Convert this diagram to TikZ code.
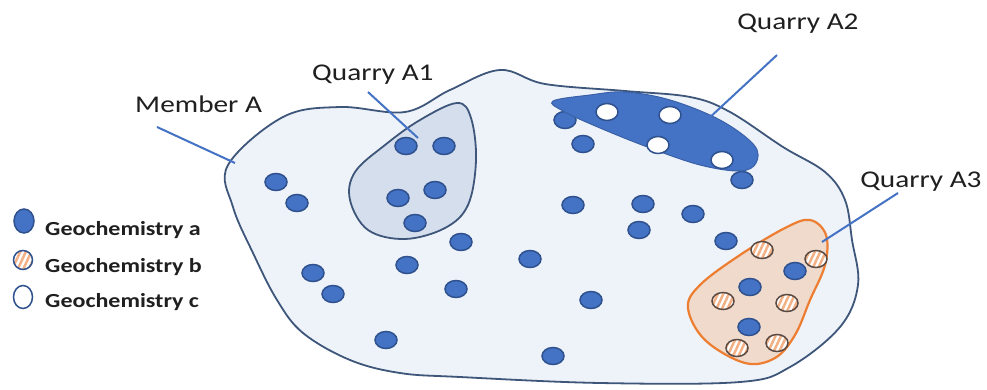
\documentclass[tikz,border=0pt]{standalone}
\usepackage{fontspec}
\setmainfont{Carlito}
\usetikzlibrary{shapes.geometric,patterns.meta}

\definecolor{memberfill}{HTML}{EEF3FA}
\definecolor{memberline}{HTML}{3E5679}
\definecolor{quarryfill}{HTML}{D5DEED}
\definecolor{geoblue}{HTML}{4472C4}
\definecolor{geoedge}{HTML}{2F528F}
\definecolor{quarryorange}{HTML}{ED7D31}
\definecolor{peachfill}{HTML}{EFDACB}
\definecolor{stripe}{HTML}{F2B084}
\definecolor{stripeedge}{HTML}{5B4B45}
\definecolor{labeltext}{HTML}{1F1F1F}

\tikzset{
  geoa/.style={ellipse, inner sep=0pt, minimum width=22pt, minimum height=17pt,
    fill=geoblue, draw=geoedge, line width=1.5pt},
  geob/.style={ellipse, inner sep=0pt, minimum width=22pt, minimum height=17pt,
    draw=stripeedge, line width=1.5pt, preaction={fill=white},
    pattern={Lines[angle=65,distance=5pt,line width=2.5pt]}, pattern color=stripe},
  geoc/.style={geoa, fill=white},
  leader/.style={draw=geoblue, line width=2pt},
  lbl/.style={font=\fontsize{24}{28}\selectfont, text=labeltext, xscale=1.22,
    inner sep=0pt, anchor=base west},
  legendtxt/.style={font=\fontsize{20}{24}\selectfont\bfseries, text=labeltext,
    xscale=1.2, inner sep=0pt, anchor=base west},
}

\begin{document}
\begin{tikzpicture}[x=1pt, y=-1pt]
    \useasboundingbox[fill=white] (0,0) rectangle (987,390);

    % Member A outline
    \filldraw[fill=memberfill, draw=memberline, line width=1.8pt]
      plot[smooth cycle, tension=0.6] coordinates {
        (228,165) (283,117) (340,107) (405,112) (450,90) (500,70) (545,84)
        (625,91) (690,97) (730,112) (783,147) (825,172) (845,200) (852,240)
        (858,285) (840,327) (790,367) (740,382) (600,383) (460,377) (400,373)
        (350,360) (303,333) (277,300) (253,253) (233,207)};

    % Quarry A1
    \filldraw[fill=quarryfill, draw=memberline, line width=1.8pt]
      plot[smooth cycle, tension=0.6] coordinates {
        (457,103) (471,118) (476,160) (468,205) (445,228) (405,239) (368,230)
        (350,200) (355,172) (385,145) (420,120)};

    % Quarry A3
    \filldraw[fill=peachfill, draw=quarryorange, line width=2.2pt]
      plot[smooth cycle, tension=0.6] coordinates {
        (810,220) (826,235) (825,265) (810,300) (795,335) (775,358) (745,363)
        (705,340) (688,308) (700,285) (740,255) (785,228)};

    % Geochemistry a samples
    \foreach \x/\y [count=\i] in {276/182, 297/203, 406/146, 444/146, 398/198,
        435/190, 415/223, 461/242, 313/273, 333/294, 407/265, 456/289, 386/340,
        553/356, 530/259, 591/300, 573/205, 643/204, 639/230, 693/214, 726/241,
        565/120, 583/144, 742/180, 795/271, 750/287, 749/327}
      \node[geoa] (a\i) at (\x,\y) {};

    % Quarry A2
    \filldraw[fill=geoblue, draw=geoblue!85!black, line width=1pt]
      plot[smooth cycle, tension=0.6] coordinates {
        (553,101) (590,95) (625,92) (670,100) (720,120) (754,145) (756,163)
        (740,171) (700,165) (650,148) (600,128) (563,111)};

    % Geochemistry c samples
    \foreach \x/\y [count=\i] in {607/112, 670/115, 658/145, 722/160}
      \node[geoc] (c\i) at (\x,\y) {};

    % Geochemistry b samples
    \foreach \x/\y [count=\i] in {762/250, 816/259, 723/301, 787/303, 737/348,
        777/343}
      \node[geob] (b\i) at (\x,\y) {};

    % Labels
    \node[lbl] (memberlbl) at (135,113) {Member A};
    \node[lbl] (quarryAone) at (312,81) {Quarry A1};
    \node[lbl] (quarryAtwo) at (737,30) {Quarry A2};
    \node[lbl] (quarryAthree) at (860,187) {Quarry A3};

    % Leader lines
    \coordinate (memberfrom) at (157,127);
    \coordinate (memberto) at (235,163);
    \coordinate (aonefrom) at (368,92);
    \coordinate (aoneto) at (418,138);
    \coordinate (atwofrom) at (777,55);
    \coordinate (atwoto) at (707,120);
    \coordinate (athreefrom) at (898,193);
    \coordinate (athreeto) at (822,242);
    \draw[leader] (memberfrom) -- (memberto);
    \draw[leader] (aonefrom) -- (aoneto);
    \draw[leader] (atwofrom) -- (atwoto);
    \draw[leader] (athreefrom) -- (athreeto);

    % Legend
    \node[geoa, minimum width=20pt, minimum height=24pt] (keya) at (24,221) {};
    \node[geob, draw=geoedge, minimum width=19pt, minimum height=19pt] (keyb) at (23,260) {};
    \node[geoc, minimum width=19pt, minimum height=23pt] (keyc) at (23,297) {};
    \node[legendtxt] (texta) at (45,235) {Geochemistry a};
    \node[legendtxt] (textb) at (45,272) {Geochemistry b};
    \node[legendtxt] (textc) at (45,307) {Geochemistry c};
\end{tikzpicture}
\end{document}
